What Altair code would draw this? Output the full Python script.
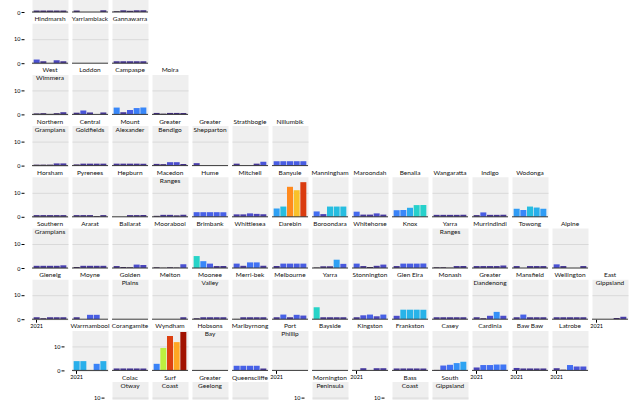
import altair as alt
import pandas as pd

YEARS = [2021, 2022, 2023, 2024, 2025]

# Councils laid out on a tile map of Victoria: name, tile column, tile row
names = [
    "Mildura", "Buloke", "Swan Hill",
    "Hindmarsh", "Yarriambiack", "Gannawarra",
    "West Wimmera", "Loddon", "Campaspe", "Moira",
    "Northern Grampians", "Central Goldfields", "Mount Alexander", "Greater Bendigo",
    "Greater Shepparton", "Strathbogie", "Nillumbik",
    "Horsham", "Pyrenees", "Hepburn", "Macedon Ranges", "Hume", "Mitchell", "Banyule",
    "Manningham", "Maroondah", "Benalla", "Wangaratta", "Indigo", "Wodonga",
    "Southern Grampians", "Ararat", "Ballarat", "Moorabool", "Brimbank", "Whittlesea",
    "Darebin", "Boroondara", "Whitehorse", "Knox", "Yarra Ranges", "Murrindindi",
    "Towong", "Alpine",
    "Glenelg", "Moyne", "Golden Plains", "Melton", "Moonee Valley", "Merri-bek",
    "Melbourne", "Yarra", "Stonnington", "Glen Eira", "Monash", "Greater Dandenong",
    "Mansfield", "Wellington", "East Gippsland",
    "Warrnambool", "Corangamite", "Wyndham", "Hobsons Bay", "Maribyrnong", "Port Phillip",
    "Bayside", "Kingston", "Frankston", "Casey", "Cardinia", "Baw Baw", "Latrobe",
    "Colac Otway", "Surf Coast", "Greater Geelong", "Queenscliffe",
    "Mornington Peninsula", "Bass Coast", "South Gippsland",
]

tile_cols = (
    [0, 1, 2]
    + [0, 1, 2]
    + [0, 1, 2, 3]
    + list(range(0, 7))
    + list(range(0, 13))
    + list(range(0, 14))
    + list(range(0, 15))
    + list(range(1, 14))
    + [2, 3, 4, 5, 7, 9, 10]
)

tile_rows = (
    [0] * 3 + [1] * 3 + [2] * 4 + [3] * 7 + [4] * 13
    + [5] * 14 + [6] * 15 + [7] * 13 + [8] * 7
)

# Yearly counts, 2021-2025, one list per council (same order as names)
counts = [
    [0.6, 0.6, 0.6, 0.6, 0.6], [0.6, 0, 0, 0, 0.7], [0.3, 0.7, 0.5, 0.7, 0.7],
    [1.5, 0.8, 0, 1.2, 0.8], [0, 0, 0, 0, 0], [0.8, 0.8, 0.8, 0.8, 0.8],
    [0.4, 0.5, 0.2, 0.5, 0.9], [0.7, 1.6, 0.8, 0, 0.8], [2.8, 0.9, 1.8, 2.6, 2.8],
    [0.6, 0.3, 0.6, 0.6, 0.6],
    [0.4, 0.4, 0.4, 0.9, 0.9], [0.5, 0.8, 0.8, 0.8, 0.8], [0.8, 0.8, 0.8, 0.8, 0.8],
    [0.7, 0.6, 1.4, 1.4, 0.7], [1.0, 0, 0, 0, 0], [0.8, 0, 0, 0.8, 1.6],
    [1.8, 1.8, 1.8, 1.8, 1.8],
    [0.7, 0.7, 0.7, 0.7, 0.7], [0.7, 0.7, 0.7, 0.3, 0.7], [0, 0, 0.7, 0.7, 0.7],
    [0.4, 0.8, 0.8, 0.6, 0.8], [1.9, 1.9, 1.9, 1.9, 1.9], [1.0, 1.0, 1.4, 1.2, 1.0],
    [3.4, 4.2, 12.3, 10.9, 14.2], [2.2, 1.1, 4.2, 4.2, 4.2], [2.1, 0.9, 0.9, 1.4, 0.9],
    [2.7, 2.8, 3.7, 4.8, 4.8], [0.8, 0.8, 0.8, 0.8, 0.8], [0.7, 1.8, 0.8, 0.8, 0.8],
    [3.3, 2.8, 4.2, 3.8, 3.3],
    [0.9, 0.9, 0.9, 0.9, 1.1], [0.4, 0.9, 0.9, 0.9, 0.9], [0.8, 0.4, 0.3, 1.4, 1.2],
    [0.3, 0.1, 0.3, 0.2, 1.5], [4.9, 2.8, 1.8, 0.8, 0.8], [1.8, 0.9, 2.3, 2.3, 0.9],
    [0.8, 1.8, 1.8, 1.8, 1.8], [0.2, 0.7, 0.7, 3.4, 1.7], [1.8, 0.8, 0.4, 0.9, 1.4],
    [0.8, 1.8, 1.8, 1.8, 1.8], [0.3, 0.3, 0.1, 0.8, 0.8], [0.8, 0.8, 0.8, 0.8, 1.0],
    [0.8, 0, 0.8, 0.8, 0.8], [1.5, 0.8, 0, 0, 0.8],
    [0.8, 0.4, 0.8, 0.8, 0.8], [0.8, 0, 1.8, 1.8, 0], [0, 0, 0, 0, 0],
    [0, 0, 0, 0, 0.8], [0.4, 0.8, 0.8, 0.8, 0.8], [0.1, 0.8, 0.8, 0.8, 0.8],
    [0.8, 1.9, 0.8, 1.8, 1.5], [4.9, 0.8, 0.8, 0.8, 0.8], [0.8, 1.6, 1.9, 1.2, 1.9],
    [1.4, 3.9, 3.9, 3.9, 3.9], [0.8, 0.8, 0.8, 0.8, 0.8], [0.8, 0.4, 1.4, 3.0, 1.4],
    [0.8, 1.9, 0.8, 0.8, 0.8], [0.8, 0.8, 0.8, 0.8, 0.8], [0, 0, 0, 0.5, 1.0],
    [3.8, 3.8, 0, 2.7, 3.8], [0.8, 0.8, 0.8, 0.8, 0.8], [2.7, 9.2, 14.1, 11.6, 15.7],
    [0, 0, 0, 0, 0], [1.9, 1.9, 1.9, 1.9, 0.8], [0, 0, 0, 0, 0],
    [0, 0, 0, 0, 0], [0, 0.9, 0, 0.9, 0.9], [0.8, 0.8, 0.8, 0.8, 0.8],
    [0.2, 2.0, 2.3, 3.0, 3.5], [1.2, 2.2, 2.2, 2.4, 2.4], [1.0, 0.8, 0.8, 0.8, 0.8],
    [0.9, 0.3, 2.2, 1.6, 1.6],
    [0.8, 0.8, 0.8, 0.8, 0.8], [0.8, 0.8, 0.8, 0.8, 0.8], [1.8, 1.8, 1.8, 1.8, 1.8],
    [0, 0, 0, 0, 0], [0.8, 0.8, 1.8, 0.8, 0.8], [0.8, 0.8, 0.8, 0.8, 0.8],
    [0.8, 0.8, 0.8, 0.8, 0.8],
]

Y_MAX = 16.4
N_COLS = 15
N_ROWS = 9
PANEL_W = 36
PANEL_H = 40
FONT = "Lato"

tiles = {(r, c): i for i, (r, c) in enumerate(zip(tile_rows, tile_cols))}


def wrap(name):
    # long multi-word names go on two lines
    return name.replace(" ", "|") if len(name) > 9 else name


def blank_tile():
    return (
        alt.Chart(pd.DataFrame({"v": [0]}))
        .mark_point(opacity=0)
        .encode(x=alt.X("v:Q", axis=None), y=alt.Y("v:Q", axis=None))
        .properties(
            width=PANEL_W,
            height=PANEL_H,
            view=alt.ViewBackground(fill="transparent", stroke="transparent"),
        )
    )


def council_tile(i, left_axis, bottom_axis):
    df = pd.DataFrame({"year": YEARS, "count": counts[i]})

    if bottom_axis:
        x_axis = alt.Axis(
            values=[2021], labelAngle=0, tickSize=3, tickColor="#000",
            labelFontSize=5.5, labelFont=FONT, labelColor="#000",
            labelPadding=1, domain=False, grid=False, title=None,
        )
    else:
        x_axis = None

    if left_axis:
        y_axis = alt.Axis(
            values=[0, 10], tickSize=3, tickColor="#000", labelFontSize=5.5,
            labelFont=FONT, labelColor="#000", labelPadding=1, offset=8,
            domain=False, grid=True, gridColor="#d9d9d9", title=None,
        )
    else:
        y_axis = alt.Axis(
            values=[10], labels=False, ticks=False, domain=False,
            grid=True, gridColor="#d9d9d9", title=None,
        )

    x = alt.X(
        "year:O",
        scale=alt.Scale(domain=YEARS, paddingInner=0.1, paddingOuter=0.25),
        axis=x_axis,
    )
    y = alt.Y("count:Q", scale=alt.Scale(domain=[0, Y_MAX], nice=False), axis=y_axis)

    bars = alt.Chart(df).mark_bar().encode(
        x=x,
        y=y,
        color=alt.Color(
            "count:Q",
            scale=alt.Scale(scheme="turbo", domain=[0, Y_MAX]),
            legend=None,
        ),
    )
    baseline = (
        alt.Chart(df)
        .transform_filter(alt.datum.year == 2021)
        .mark_rule(color="#3a3a3a", strokeWidth=1)
        .encode(y=alt.datum(0))
    )
    label = (
        alt.Chart(pd.DataFrame({"name": [wrap(names[i])]}))
        .mark_text(
            align="center", baseline="top", lineBreak="|", fontSize=6.5,
            lineHeight=8, font=FONT, color="#111",
        )
        .encode(text="name:N", x=alt.value(PANEL_W / 2), y=alt.value(-7))
    )
    return alt.layer(bars, baseline, label).properties(width=PANEL_W, height=PANEL_H)


panels = []
for r in range(N_ROWS):
    for c in range(N_COLS):
        if (r, c) not in tiles:
            panels.append(blank_tile())
            continue
        i = tiles[(r, c)]
        left_axis = (r, c - 1) not in tiles
        bottom_axis = (r + 1, c) not in tiles
        panels.append(council_tile(i, left_axis, bottom_axis))

chart = (
    alt.concat(
        *panels,
        columns=N_COLS,
        spacing={"row": 11.2, "column": 4},
        bounds="flush",
    )
    .properties(padding={"top": -36, "left": 13, "bottom": -32, "right": 4})
    .configure(background="white")
    .configure_view(fill="#efefef", stroke="transparent")
)

chart.save("out.html", embed_options={"renderer": "svg", "actions": False})
